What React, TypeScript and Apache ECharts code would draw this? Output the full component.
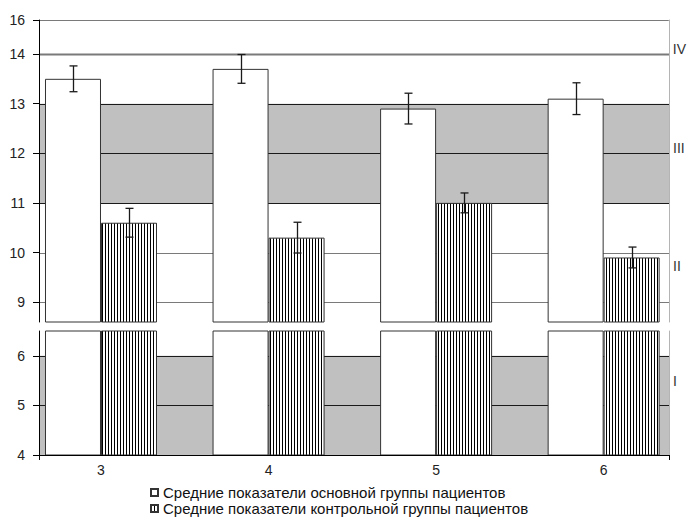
import React, { useEffect, useRef } from 'react';
import * as echarts from 'echarts';

const categories = [3, 4, 5, 6];
const mainMeans = [13.5, 13.7, 12.9, 13.1];
const mainErrors = [0.26, 0.29, 0.31, 0.32];
const controlMeans = [10.6, 10.3, 11.0, 9.9];
const controlErrors = [0.29, 0.31, 0.2, 0.21];
const seriesNames = [
  'Средние показатели основной группы пациентов',
  'Средние показатели контрольной группы пациентов',
];
const topTicks = [14, 16];
const middleTicks = [9, 10, 11, 12, 13];
const bottomTicks = [4, 5, 6];
const topLines = [16];
const middleLines = [9, 10, 11, 12, 13, 14];
const bottomLines = [5, 6];
const middleBands = [[11, 13]];
const bottomBands = [[4, 6]];
const zoneLabels = ['IV', 'III', 'II', 'I'];
const zoneValues = [14.3, 12.1, 9.73, 5.5];

const X_MIN = 2.63;
const X_MAX = 6.39;
const BAR_W = 56;
const FONT = 'Liberation Sans';

function makeStripe(): HTMLCanvasElement {
  const c = document.createElement('canvas');
  c.width = 3;
  c.height = 4;
  const ctx = c.getContext('2d')!;
  ctx.fillStyle = '#ffffff';
  ctx.fillRect(0, 0, 3, 4);
  ctx.fillStyle = '#000000';
  ctx.fillRect(0, 0, 1, 4);
  return c;
}

function zoneFormatter(v: number): string {
  let best = 0;
  let bd = Infinity;
  zoneValues.forEach((z, i) => {
    const d = Math.abs(z - v);
    if (d < bd) {
      bd = d;
      best = i;
    }
  });
  return zoneLabels[best];
}

export default function App() {
  const ref = useRef<HTMLDivElement>(null);

  useEffect(() => {
    if (!ref.current) return;
    const chart = echarts.init(ref.current, undefined, { renderer: 'svg' });
    const stripe = { image: makeStripe(), repeat: 'repeat' } as any;

    const grids = [
      { left: 39, right: 20, top: 20, height: 34 },
      { left: 39, right: 20, top: 54, height: 268 },
      { left: 39, right: 20, top: 331, height: 124 },
    ];
    const ranges = [
      [14, 16],
      [8.6, 14],
      [4, 6.5],
    ];
    const tickSets = [topTicks, middleLines, bottomTicks];
    const labelSets = [topTicks, middleTicks, bottomTicks];

    const xAxis = grids.map((_, i) => ({
      type: 'value',
      gridIndex: i,
      min: X_MIN,
      max: X_MAX,
      show: i === 2,
      z: 3,
      splitLine: { show: false },
      axisLine: { show: true, lineStyle: { color: '#000', width: 1 } },
      axisTick: {
        show: true,
        customValues: [X_MIN, X_MAX],
        length: 5,
        lineStyle: { color: '#000' },
      },
      axisLabel: {
        customValues: categories,
        margin: 8,
        fontSize: 14,
        fontFamily: FONT,
        color: '#222',
      },
    }));

    const yAxis: any[] = [];
    grids.forEach((_, i) => {
      yAxis.push({
        type: 'value',
        gridIndex: i,
        position: 'left',
        min: ranges[i][0],
        max: ranges[i][1],
        z: 3,
        splitLine: { show: false },
        axisLine: { show: true, lineStyle: { color: '#000', width: 1 } },
        axisTick: {
          show: true,
          customValues: tickSets[i],
          length: 6,
          lineStyle: { color: '#000' },
        },
        axisLabel: {
          customValues: labelSets[i],
          margin: 14,
          fontSize: 14,
          fontFamily: FONT,
          color: '#222',
        },
      });
      const zv = zoneValues.filter((v) => v >= ranges[i][0] && v <= ranges[i][1]);
      yAxis.push({
        type: 'value',
        gridIndex: i,
        position: 'right',
        min: ranges[i][0],
        max: ranges[i][1],
        z: 3,
        splitLine: { show: false },
        axisLine: { show: true, lineStyle: { color: '#b4b4b4', width: 1 } },
        axisTick: { show: false },
        axisLabel: {
          customValues: zv,
          formatter: (v: number) => zoneFormatter(v),
          margin: 4,
          fontSize: 14,
          fontFamily: FONT,
          color: '#333333',
        },
      });
    });

    const lineSeries = (gridIdx: number, values: number[], bands: number[][], thickAt?: number) => ({
      type: 'custom',
      xAxisIndex: gridIdx,
      yAxisIndex: gridIdx * 2,
      z: 1,
      silent: true,
      encode: { x: 0, y: 1 },
      data: values.map((v) => [categories[0], v]),
      renderItem: (params: any, api: any) => {
        const cs = params.coordSys;
        const v = api.value(1);
        const inBand = bands.some((b) => v >= b[0] && v <= b[1]);
        const y = Math.round(api.coord([api.value(0), v])[1]) + 0.5;
        const thick = thickAt !== undefined && v === thickAt;
        return {
          type: 'line',
          z2: 10,
          shape: { x1: cs.x, y1: y, x2: cs.x + cs.width, y2: y },
          style: {
            stroke: inBand ? '#1a1a1a' : '#7a7a7a',
            lineWidth: thick ? 2 : 1,
          },
        };
      },
    });

    const bandSeries = (gridIdx: number, bands: number[][]) => ({
      type: 'custom',
      xAxisIndex: gridIdx,
      yAxisIndex: gridIdx * 2,
      z: 1,
      silent: true,
      encode: { x: 0, y: [1, 2] },
      data: bands.map((b) => [categories[0], b[0], b[1]]),
      renderItem: (params: any, api: any) => {
        const cs = params.coordSys;
        const yTop = api.coord([api.value(0), api.value(2)])[1];
        const yBot = api.coord([api.value(0), api.value(1)])[1];
        return {
          type: 'rect',
          z2: 0,
          shape: { x: cs.x, y: yTop, width: cs.width, height: yBot - yTop },
          style: { fill: '#c0c0c0' },
        };
      },
    });

    const barSeries = (gridIdx: number) => [
      {
        name: seriesNames[0],
        type: 'bar',
        xAxisIndex: gridIdx,
        yAxisIndex: gridIdx * 2,
        barWidth: BAR_W,
        barGap: '0%',
        z: 2,
        data: categories.map((c, i) => [c, mainMeans[i]]),
        itemStyle: { color: '#ffffff', borderColor: '#333333', borderWidth: 1 },
      },
      {
        name: seriesNames[1],
        type: 'bar',
        xAxisIndex: gridIdx,
        yAxisIndex: gridIdx * 2,
        barWidth: BAR_W,
        barGap: '0%',
        z: 2,
        data: categories.map((c, i) => [c, controlMeans[i]]),
        itemStyle: { color: stripe, borderColor: '#333333', borderWidth: 1 },
      },
    ];

    const errorSeries = (means: number[], errs: number[], offset: number) => ({
      type: 'custom',
      xAxisIndex: 1,
      yAxisIndex: 2,
      z: 3,
      silent: true,
      clip: false,
      encode: { x: 0, y: 1 },
      data: categories.map((c, i) => [c, means[i], errs[i]]),
      renderItem: (params: any, api: any) => {
        const x = api.value(0);
        const m = api.value(1);
        const e = api.value(2);
        const top = api.coord([x, m + e]);
        const bot = api.coord([x, m - e]);
        const cx = Math.round(top[0] + offset) + 0.5;
        const style = { stroke: '#1a1a1a', lineWidth: 1.3 };
        return {
          type: 'group',
          children: [
            { type: 'line', shape: { x1: cx, y1: top[1], x2: cx, y2: bot[1] }, style },
            { type: 'line', shape: { x1: cx - 4, y1: top[1], x2: cx + 4, y2: top[1] }, style },
            { type: 'line', shape: { x1: cx - 4, y1: bot[1], x2: cx + 4, y2: bot[1] }, style },
          ],
        };
      },
    });

    const option: any = {
      animation: false,
      textStyle: { fontFamily: FONT },
      grid: grids,
      xAxis,
      yAxis,
      legend: {
        data: seriesNames,
        orient: 'vertical',
        left: 150,
        top: 485,
        height: 36,
        padding: 0,
        itemWidth: 7,
        itemHeight: 7,
        itemGap: 1,
        icon: 'rect',
        textStyle: { fontSize: 15, fontFamily: FONT, color: '#111' },
      },
      series: [
        lineSeries(0, topLines, []),
        bandSeries(1, middleBands),
        lineSeries(1, middleLines, middleBands, 14),
        bandSeries(2, bottomBands),
        lineSeries(2, bottomLines, bottomBands),
        ...barSeries(1),
        ...barSeries(2),
        errorSeries(mainMeans, mainErrors, -BAR_W / 2),
        errorSeries(controlMeans, controlErrors, BAR_W / 2),
      ],
    };
    chart.setOption(option);
    return () => chart.dispose();
  }, []);

  return (
    <div
      ref={ref}
      style={{ position: 'fixed', left: 0, top: 0, width: 689, height: 521, background: '#fff' }}
    />
  );
}
